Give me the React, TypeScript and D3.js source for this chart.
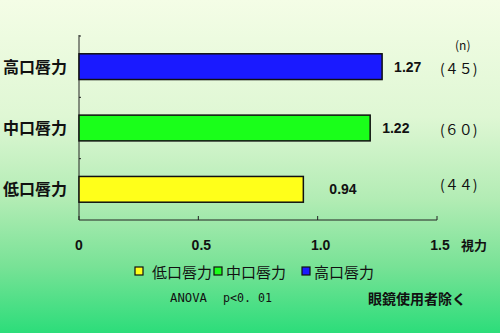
import React from "react";
import * as d3 from "d3";

const categories = ["高口唇力", "中口唇力", "低口唇力"];
const values = [1.27, 1.22, 0.94];
const counts = ["(４５)", "(６０)", "(４４)"];
const colors = ["#1a1aff", "#1aff1a", "#ffff1a"];
const xTicks = [0, 0.5, 1.0, 1.5];
const xTickLabels = ["0", "0.5", "1.0", "1.5"];
const legendItems = ["低口唇力", "中口唇力", "高口唇力"];
const legendColors = ["#ffff1a", "#1aff1a", "#1a1aff"];

const W = 500, H = 333;
const left = 79, top = 36, right = 437, bottom = 220;

export default function App() {
  const x = d3.scaleLinear().domain([0, 1.5]).range([left, right]);
  const y = d3.scaleBand().domain(categories).range([top, bottom]).paddingInner(0.58).paddingOuter(0.29);
  const band = d3.scaleBand().domain(categories).range([top, bottom]);
  const font = "'Noto Sans CJK JP', 'Noto Sans', sans-serif";
  const labelDx = [12, 12, 26];
  const legendX = [135, 214, 302];
  return (
    <svg width={W} height={H} style={{ position: "absolute", left: 0, top: 0 }} fontFamily={font}>
      <defs>
        <linearGradient id="bg" x1="0" y1="0" x2="0" y2="1">
          <stop offset="0" stopColor="#f4fde6" />
          <stop offset="0.35" stopColor="#dff7d4" />
          <stop offset="0.6" stopColor="#b2ecb4" />
          <stop offset="0.8" stopColor="#78e296" />
          <stop offset="1" stopColor="#2cdd7a" />
        </linearGradient>
      </defs>
      <rect x={0} y={0} width={W} height={H} fill="url(#bg)" />
      {/* axes */}
      <line x1={left} y1={top - 1} x2={left} y2={bottom} stroke="#222" strokeWidth={1} />
      <line x1={left} y1={bottom} x2={right} y2={bottom} stroke="#222" strokeWidth={1} />
      {categories.map((c) => (
        <line key={"yt" + c} x1={left} x2={left + 2} y1={band(c)!} y2={band(c)!} stroke="#222" />
      ))}
      {xTicks.map((t) => (
        <line key={"xt" + t} x1={x(t)} x2={x(t)} y1={bottom} y2={bottom - 4} stroke="#222" />
      ))}
      {categories.map((c, i) => (
        <g key={c}>
          <rect x={x(0)} y={y(c)!} width={x(values[i]) - x(0)} height={y.bandwidth()} fill={colors[i]} stroke="#111" strokeWidth={1.5} />
          <text x={x(values[i]) + labelDx[i]} y={y(c)! + y.bandwidth() / 2 + 5} fontSize={14} fontWeight="bold" fill="#111" fontFamily="'Liberation Sans', Arial, sans-serif">
            {values[i].toFixed(2)}
          </text>
          <text x={3} y={y(c)! + y.bandwidth() / 2 + 6} fontSize={16} fontWeight="bold" fill="#111">
            {c}
          </text>
          <text x={440} y={y(c)! + y.bandwidth() / 2 + (i === 2 ? 1 : 7)} fontSize={14} fill="#111">
            {counts[i]}
          </text>
        </g>
      ))}
      <text x={455} y={50} fontSize={12} fill="#111">(n)</text>
      {xTicks.map((t, i) => (
        <text key={"xl" + t} x={x(t) + (i === 0 ? 0 : 3)} y={250} fontSize={14} fontWeight="bold" textAnchor="middle" fill="#111" fontFamily="'Liberation Sans', Arial, sans-serif">
          {xTickLabels[i]}
        </text>
      ))}
      <text x={461} y={250} fontSize={13} fontWeight="bold" fill="#111">視力</text>
      {legendItems.map((l, i) => (
        <g key={l}>
          <rect x={legendX[i]} y={267} width={8} height={8} fill={legendColors[i]} stroke="#111" strokeWidth={1.2} />
          <text x={legendX[i] + (i === 0 ? 17 : 12)} y={278} fontSize={15} fill="#111">{l}</text>
        </g>
      ))}
      <text x={170} y={302} fontSize={13} fill="#111" fontFamily="'DejaVu Sans Mono', monospace" textLength={37} lengthAdjust="spacingAndGlyphs">ANOVA</text>
      <text x={223} y={302} fontSize={13} fill="#111" fontFamily="'DejaVu Sans Mono', monospace" textLength={49} lengthAdjust="spacingAndGlyphs">p&lt;0. 01</text>
      <text x={368} y={304} fontSize={14} fontWeight="bold" fill="#111">眼鏡使用者除く</text>
    </svg>
  );
}
